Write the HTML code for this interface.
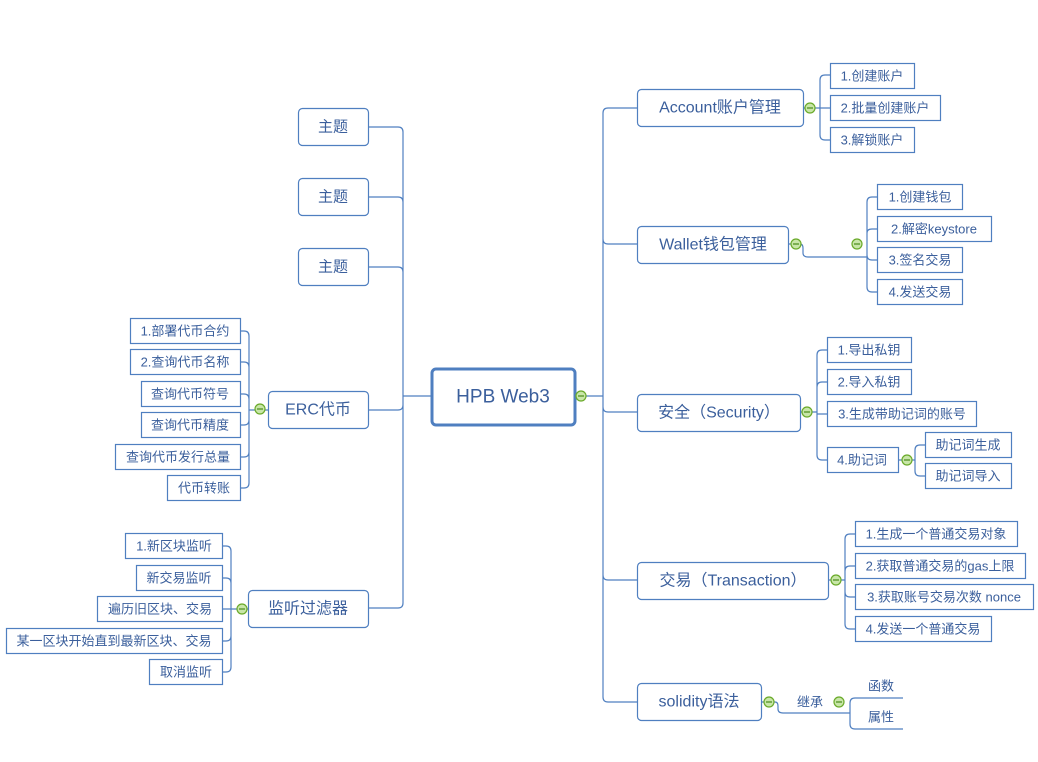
<!DOCTYPE html>
<html><head><meta charset="utf-8"><style>
html,body{margin:0;padding:0;background:#fff;}
svg{display:block;}
text{font-family:"Liberation Sans","Noto Sans CJK SC",sans-serif;fill:#3b5f9c;dominant-baseline:central;text-anchor:middle;}
.b{fill:#fff;stroke:#4f7fc0;stroke-width:1.2;}
.l{fill:none;stroke:#4f7fc0;stroke-width:1.2;}
.m{fill:#c8e6a8;stroke:#6aaa2a;stroke-width:1.2;}
.s{font-size:13px;}
.n{font-size:16px;}
</style></head><body>
<svg width="1038" height="762" viewBox="0 0 1038 762" xmlns="http://www.w3.org/2000/svg">
<defs>
<g id="mi"><circle cx="0" cy="0" r="5" class="m"/><line x1="-3" y1="0" x2="3" y2="0" stroke="#4a8a1a" stroke-width="1.2"/></g>
</defs>
<!-- right spine -->
<path class="l" d="M575 396 H603 M603 396 V113 Q603 108 608 108 H637 M603 396 V239 Q603 244 608 244 H637 M603 396 V407 Q603 412 608 412 H637 M603 396 V575 Q603 580 608 580 H637 M603 396 V697 Q603 702 608 702 H637"/>
<!-- left spine -->
<path class="l" d="M431 396 H403 M403 396 V132 Q403 127 398 127 H368 M403 396 V202 Q403 197 398 197 H368 M403 396 V272 Q403 267 398 267 H368 M403 396 V405 Q403 410 398 410 H368 M403 396 V603 Q403 608 398 608 H368"/>
<!-- Account -->
<path class="l" d="M803 108 H820 M820 108 V80 Q820 75 825 75 H830 M820 108 H830 M820 108 V135 Q820 140 825 140 H830"/>
<!-- Wallet -->
<path class="l" d="M788 244 H800 Q803 244 803 248 V253 Q803 257 808 257 H867 M867 257 V202 Q867 197 872 197 H877 M867 257 V233 Q867 229 872 229 H877 M867 257 V255 Q867 260 872 260 H877 M867 257 V287 Q867 292 872 292 H877"/>
<!-- Security -->
<path class="l" d="M800 412 H817 M817 412 V355 Q817 350 822 350 H827 M817 412 V387 Q817 382 822 382 H827 M817 412 V414 H827 M817 412 V455 Q817 460 822 460 H827 M898 460 H915 M915 460 V450 Q915 445 920 445 H925 M915 460 V471 Q915 476 920 476 H925"/>
<!-- Transaction -->
<path class="l" d="M828 580 H845 M845 580 V539 Q845 534 850 534 H855 M845 580 V571 Q845 566 850 566 H855 M845 580 V592 Q845 597 850 597 H855 M845 580 V624 Q845 629 850 629 H855"/>
<!-- solidity -->
<path class="l" d="M761 702 H775 Q778 702 778 706 V709 Q778 713 783 713 H850 M850 713 V703 Q850 698 855 698 H903 M850 713 V724 Q850 729 855 729 H903"/>
<!-- ERC -->
<path class="l" d="M268 410 H249 M249 410 V336 Q249 331 244 331 H240 M249 410 V367 Q249 362 244 362 H240 M249 410 V399 Q249 394 244 394 H240 M249 410 V420 Q249 425 244 425 H240 M249 410 V452 Q249 457 244 457 H240 M249 410 V483 Q249 488 244 488 H240"/>
<!-- filter -->
<path class="l" d="M248 609 H231 M231 609 V551 Q231 546 226 546 H222 M231 609 V583 Q231 578 226 578 H222 M231 609 H222 M231 609 V636 Q231 641 226 641 H222 M231 609 V667 Q231 672 226 672 H222"/>

<!-- central -->
<rect x="432" y="369" width="143" height="56" rx="4" fill="#fff" stroke="#4f7fc0" stroke-width="3"/>
<text x="503" y="397" style="font-size:19px">HPB Web3</text>

<!-- right main -->
<rect class="b" x="637.5" y="89.5" width="166" height="37" rx="4"/><text class="n" x="720" y="108">Account账户管理</text>
<rect class="b" x="637.5" y="226.5" width="151" height="37" rx="4"/><text class="n" x="713" y="245">Wallet钱包管理</text>
<rect class="b" x="637.5" y="394.5" width="163" height="37" rx="4"/><text class="n" x="719" y="413">安全（Security）</text>
<rect class="b" x="637.5" y="562.5" width="191" height="37" rx="4"/><text class="n" x="733" y="581">交易（Transaction）</text>
<rect class="b" x="637.5" y="683.5" width="124" height="37" rx="4"/><text class="n" x="699" y="702">solidity语法</text>

<!-- left main -->
<rect class="b" x="298.5" y="108.5" width="70" height="37" rx="4"/><text class="n" x="333" y="127" style="font-size:15px">主题</text>
<rect class="b" x="298.5" y="178.5" width="70" height="37" rx="4"/><text class="n" x="333" y="197" style="font-size:15px">主题</text>
<rect class="b" x="298.5" y="248.5" width="70" height="37" rx="4"/><text class="n" x="333" y="267" style="font-size:15px">主题</text>
<rect class="b" x="268.5" y="391.5" width="100" height="37" rx="4"/><text class="n" x="318" y="410">ERC代币</text>
<rect class="b" x="248.5" y="590.5" width="120" height="37" rx="4"/><text class="n" x="308" y="609">监听过滤器</text>

<!-- account children -->
<rect class="b" x="830.5" y="63.5" width="84" height="25"/><text class="s" x="872" y="76">1.创建账户</text>
<rect class="b" x="830.5" y="95.5" width="110" height="25"/><text class="s" x="885" y="108">2.批量创建账户</text>
<rect class="b" x="830.5" y="127.5" width="84" height="25"/><text class="s" x="872" y="140">3.解锁账户</text>
<!-- wallet children -->
<rect class="b" x="877.5" y="184.5" width="85" height="25"/><text class="s" x="920" y="197">1.创建钱包</text>
<rect class="b" x="877.5" y="216.5" width="114" height="25"/><text class="s" x="934" y="229">2.解密keystore</text>
<rect class="b" x="877.5" y="247.5" width="85" height="25"/><text class="s" x="920" y="260">3.签名交易</text>
<rect class="b" x="877.5" y="279.5" width="85" height="25"/><text class="s" x="920" y="292">4.发送交易</text>
<!-- security children -->
<rect class="b" x="827.5" y="337.5" width="84" height="25"/><text class="s" x="869" y="350">1.导出私钥</text>
<rect class="b" x="827.5" y="369.5" width="84" height="25"/><text class="s" x="869" y="382">2.导入私钥</text>
<rect class="b" x="827.5" y="401.5" width="149" height="25"/><text class="s" x="902" y="414">3.生成带助记词的账号</text>
<rect class="b" x="827.5" y="447.5" width="71" height="25"/><text class="s" x="862" y="460">4.助记词</text>
<rect class="b" x="925.5" y="432.5" width="86" height="25"/><text class="s" x="968" y="445">助记词生成</text>
<rect class="b" x="925.5" y="463.5" width="86" height="25"/><text class="s" x="968" y="476">助记词导入</text>
<!-- transaction children -->
<rect class="b" x="855.5" y="521.5" width="162" height="25"/><text class="s" x="936" y="534">1.生成一个普通交易对象</text>
<rect class="b" x="855.5" y="553.5" width="170" height="25"/><text class="s" x="940" y="566">2.获取普通交易的gas上限</text>
<rect class="b" x="855.5" y="584.5" width="178" height="25"/><text class="s" x="944" y="597">3.获取账号交易次数 nonce</text>
<rect class="b" x="855.5" y="616.5" width="136" height="25"/><text class="s" x="923" y="629">4.发送一个普通交易</text>
<!-- solidity -->
<text class="s" x="810" y="702">继承</text>
<text class="s" x="881" y="686">函数</text>
<text class="s" x="881" y="717">属性</text>

<!-- ERC children -->
<rect class="b" x="130.5" y="318.5" width="110" height="25"/><text class="s" x="185" y="331">1.部署代币合约</text>
<rect class="b" x="130.5" y="349.5" width="110" height="25"/><text class="s" x="185" y="362">2.查询代币名称</text>
<rect class="b" x="141.5" y="381.5" width="99" height="25"/><text class="s" x="190" y="394">查询代币符号</text>
<rect class="b" x="141.5" y="412.5" width="99" height="25"/><text class="s" x="190" y="425">查询代币精度</text>
<rect class="b" x="115.5" y="444.5" width="125" height="25"/><text class="s" x="178" y="457">查询代币发行总量</text>
<rect class="b" x="167.5" y="475.5" width="73" height="25"/><text class="s" x="204" y="488">代币转账</text>
<!-- filter children -->
<rect class="b" x="125.5" y="533.5" width="97" height="25"/><text class="s" x="174" y="546">1.新区块监听</text>
<rect class="b" x="136.5" y="565.5" width="86" height="25"/><text class="s" x="179" y="578">新交易监听</text>
<rect class="b" x="97.5" y="596.5" width="125" height="25"/><text class="s" x="160" y="609">遍历旧区块、交易</text>
<rect class="b" x="6.5" y="628.5" width="216" height="25"/><text class="s" x="114" y="641">某一区块开始直到最新区块、交易</text>
<rect class="b" x="149.5" y="659.5" width="73" height="25"/><text class="s" x="186" y="672">取消监听</text>

<!-- minus icons -->
<use href="#mi" x="581" y="396"/>
<use href="#mi" x="810" y="108"/>
<use href="#mi" x="796" y="244"/>
<use href="#mi" x="857" y="244"/>
<use href="#mi" x="807" y="412"/>
<use href="#mi" x="907" y="460"/>
<use href="#mi" x="836" y="580"/>
<use href="#mi" x="769" y="702"/>
<use href="#mi" x="839" y="702"/>
<use href="#mi" x="260" y="409"/>
<use href="#mi" x="242" y="609"/>
</svg>
</body></html>
